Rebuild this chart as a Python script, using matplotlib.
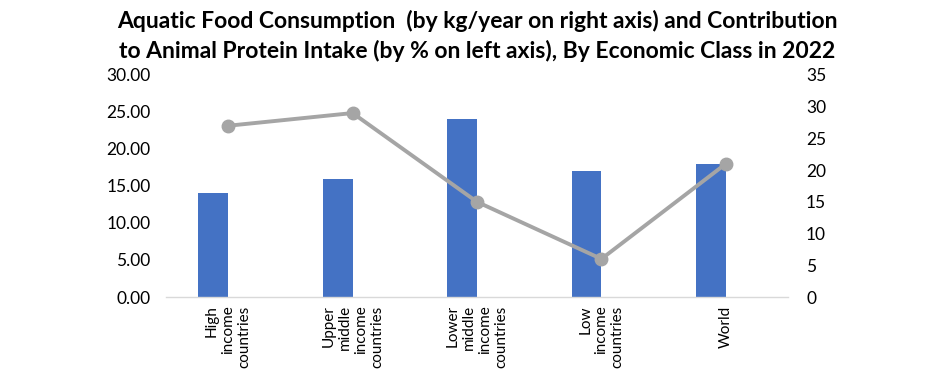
import matplotlib
matplotlib.use("Agg")
import matplotlib.pyplot as plt
import numpy as np

categories = ["High\nincome\ncountries", "Upper\nmiddle\nincome\ncountries",
              "Lower\nmiddle\nincome\ncountries", "Low\nincome\ncountries", "World"]
bar_values = [14, 16, 24, 17, 18]
line_values = [27, 29, 15, 6, 21]
left_ticks = [0, 5, 10, 15, 20, 25, 30]
right_ticks = [0, 5, 10, 15, 20, 25, 30, 35]

title = ("Aquatic Food Consumption  (by kg/year on right axis) and Contribution\n"
         "to Animal Protein Intake (by % on left axis), By Economic Class in 2022")

plt.rcParams['font.family'] = ['Lato', 'DejaVu Sans']

fig = plt.figure(figsize=(9.41, 3.74), dpi=100)
ax = fig.add_axes([166 / 941, 1 - 297 / 374, (788 - 166) / 941, (297 - 75) / 374])
ax2 = ax.twinx()

x = np.arange(len(categories))
bw = 0.24
# bars sit just left of the category centre, line points on the centre
ax.bar(x - bw / 2, bar_values, width=bw, color="#4472C4", zorder=2)
ax2.plot(x, line_values, color="#A5A5A5", linewidth=2.8, marker="o",
         markersize=9, zorder=3)

ax.set_xlim(-0.5, len(categories) - 0.5)
ax.set_ylim(0, 30)
ax2.set_ylim(0, 35)
ax.set_yticks(left_ticks)
ax.set_yticklabels([f"{t:.2f}" for t in left_ticks])
ax2.set_yticks(right_ticks)
ax2.set_yticklabels([str(t) for t in right_ticks])

ax.set_xticks(x)
ax.set_xticklabels(categories, rotation=90, ha="center", va="top",
                   multialignment="right", fontsize=11, linespacing=1.2)

for a in (ax, ax2):
    for s in a.spines.values():
        s.set_visible(False)
    a.tick_params(length=0)
ax.spines["bottom"].set_visible(True)
ax.spines["bottom"].set_color("#D9D9D9")
ax.spines["bottom"].set_linewidth(1)
ax.tick_params(axis="y", labelsize=12.5, pad=11)
ax.tick_params(axis="x", pad=6)
ax2.tick_params(axis="y", labelsize=12.5, pad=13)

fig.text(477 / 941, 1 - 36 / 374, title, ha="center", va="center",
         fontsize=16.5, fontweight="bold", linespacing=1.45)

fig.savefig("out.png", dpi=100)
